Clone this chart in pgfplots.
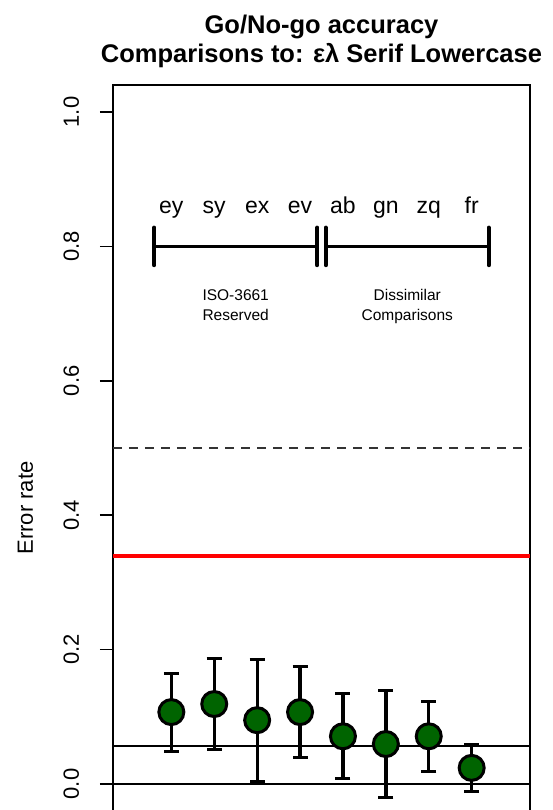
\documentclass[border=0pt]{standalone}
\usepackage{fontspec}
\setmainfont{Liberation Sans}
\usepackage{pgfplots}
\pgfplotsset{compat=1.18}
\definecolor{dkgreen}{RGB}{0,100,0}
\begin{document}
\begin{tikzpicture}
\begin{axis}[
  scale only axis, width=417pt, height=766.08pt,
  xmin=-0.36, xmax=9.36, ymin=-0.1, ymax=1.04,
  xtick=\empty,
  ytick={0,0.2,0.4,0.6,0.8,1.0},
  ytick pos=left,
  tick align=outside,
  major tick length=13pt,
  every tick/.style={black, line width=1.5pt},
  axis line style={line width=1.5pt},
  /pgf/number format/fixed, /pgf/number format/fixed zerofill,
  /pgf/number format/precision=1, /pgf/number format/assume math mode=true,
  yticklabel shift=21pt,
  yticklabel style={font=\fontsize{22}{26}\selectfont, rotate=90, anchor=base},
  ylabel={Error rate},
  ylabel style={at={(axis description cs:-0.19185,0.448)}, anchor=base, font=\fontsize{22}{26}\selectfont},
  clip=false,
]
% reference lines
\addplot[black, line width=2pt] coordinates {(-0.36,0) (9.36,0)};
\addplot[black, line width=2pt] coordinates {(-0.36,0.056) (9.36,0.056)};
\addplot[red, line width=4pt] coordinates {(-0.36,0.34) (9.36,0.34)};
\addplot[black!80, line width=2pt, dash pattern=on 9pt off 7pt] coordinates {(-0.36,0.5) (9.36,0.5)};
% brackets
\addplot[black, line width=3.5pt] coordinates {(0.6,0.8) (4.4,0.8)};
\addplot[black, line width=3.5pt] coordinates {(4.6,0.8) (8.4,0.8)};
\addplot[black, line width=4pt, line cap=round] coordinates {(0.6,0.772) (0.6,0.828)};
\addplot[black, line width=4pt, line cap=round] coordinates {(4.4,0.772) (4.4,0.828)};
\addplot[black, line width=4pt, line cap=round] coordinates {(4.6,0.772) (4.6,0.828)};
\addplot[black, line width=4pt, line cap=round] coordinates {(8.4,0.772) (8.4,0.828)};
% error bars
\addplot[black, only marks, mark=none,
  error bars/.cd, y dir=both, y explicit,
  error bar style={draw=black, line width=3.3pt},
  error mark options={draw=black, line width=3pt, mark size=7.5pt, rotate=90}]
  coordinates {
  (1,0.107) +- (0,0.058)
  (2,0.119) +- (0,0.068)
  (3,0.095) +- (0,0.091)
  (4,0.107) +- (0,0.068)
  (5,0.071) +- (0,0.0635)
  (6,0.0595) +- (0,0.079)
  (7,0.071) +- (0,0.0525)
  (8,0.024) +- (0,0.0345)
  };
\addplot[only marks, mark=*, mark size=12.5pt, mark options={fill=dkgreen, draw=black, line width=3pt}]
  coordinates {(1,0.107) (2,0.119) (3,0.095) (4,0.107) (5,0.071) (6,0.0595) (7,0.071) (8,0.024)};
% annotations
\foreach \lab [count=\i] in {ey,sy,ex,ev,ab,gn,zq,fr}{
  \edef\tmp{\noexpand\node[anchor=base, font=\noexpand\fontsize{23}{27}\noexpand\selectfont] at (axis cs:\i,0.849) {\lab};}
  \tmp
}
\node[anchor=base, font=\fontsize{15.5}{18}\selectfont] at (axis cs:2.5,0.7202) {ISO-3661};
\node[anchor=base, font=\fontsize{15.5}{18}\selectfont] at (axis cs:2.5,0.689) {Reserved};
\node[anchor=base, font=\fontsize{15.5}{18}\selectfont] at (axis cs:6.5,0.7202) {Dissimilar};
\node[anchor=base, font=\fontsize{15.5}{18}\selectfont] at (axis cs:6.5,0.689) {Comparisons};
\node[anchor=base, font=\bfseries\fontsize{25.5}{30}\selectfont] at (axis cs:4.5,1.1167) {Go/No-go accuracy};
\node[anchor=base, font=\bfseries\fontsize{25.5}{30}\selectfont] at (axis cs:4.5,1.0729) {Comparisons to: ελ Serif Lowercase};
\end{axis}
\pgfresetboundingbox
\useasboundingbox (-113pt,41.2pt) rectangle (439pt,851.2pt);
\end{tikzpicture}
\end{document}
